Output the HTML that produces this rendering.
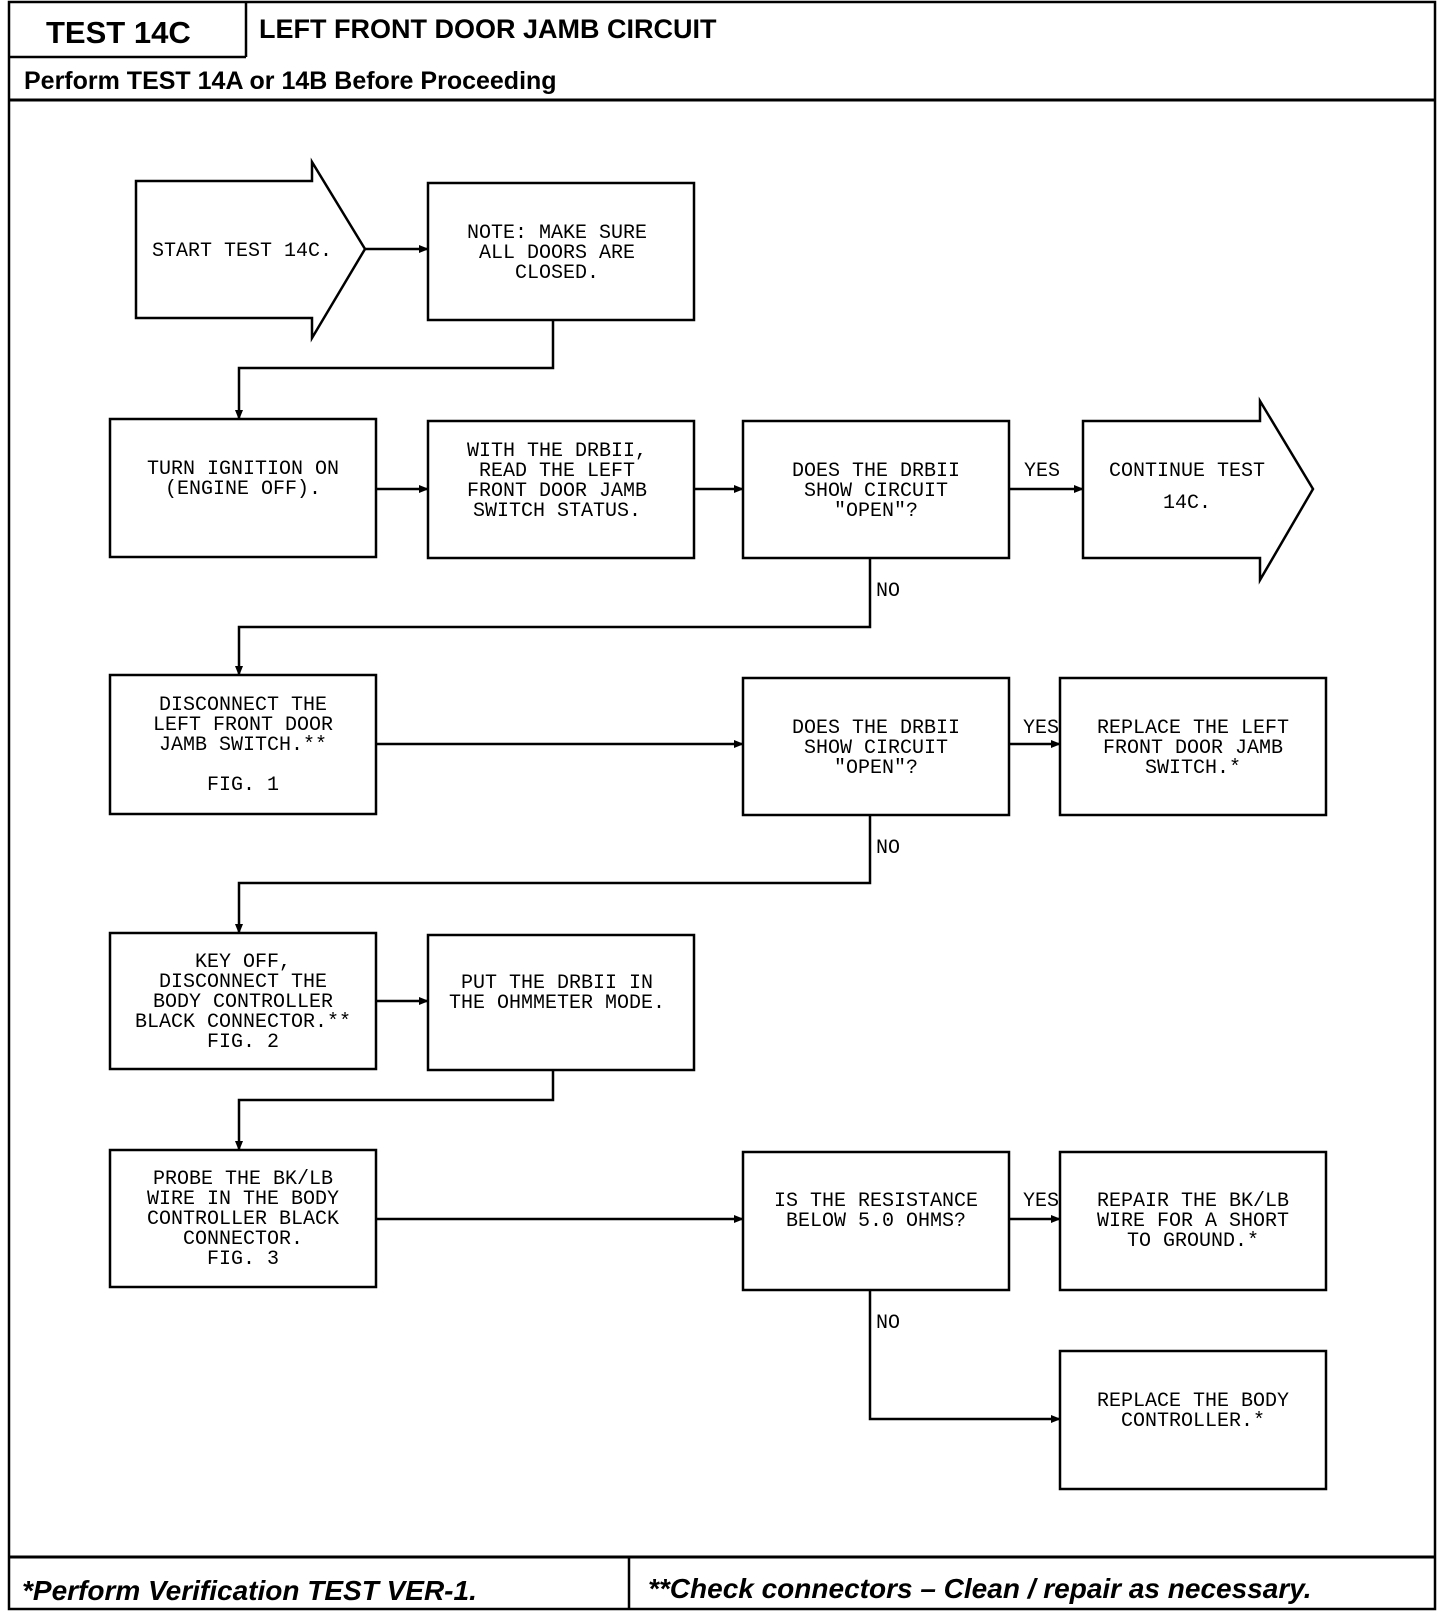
<!DOCTYPE html>
<html><head><meta charset="utf-8"><style>
html,body{margin:0;padding:0;background:#fff;}
svg{display:block}
.t{font-family:"Liberation Mono",monospace;font-size:20px;fill:#000;text-anchor:middle}
.l{font-family:"Liberation Mono",monospace;font-size:20px;fill:#000}
.h{font-family:"Liberation Sans",sans-serif;font-weight:bold;fill:#000}
</style></head><body>
<svg width="1440" height="1618" viewBox="0 0 1440 1618" xmlns="http://www.w3.org/2000/svg">
<defs><marker id="a" markerWidth="10" markerHeight="8" refX="9" refY="4" orient="auto" markerUnits="userSpaceOnUse"><path d="M0,0 L10,4 L0,8 z" fill="#000"/></marker></defs>
<g fill="none" stroke="#000" stroke-width="2.5">
<rect x="9" y="2" width="1426" height="1607"/>
<line x1="9" y1="57" x2="246" y2="57"/><line x1="246" y1="2" x2="246" y2="57"/>
<line x1="9" y1="100" x2="1435" y2="100" stroke-width="3"/>
<line x1="9" y1="1557" x2="1435" y2="1557" stroke-width="3"/>
<line x1="629" y1="1557" x2="629" y2="1609"/>
<!-- start arrow -->
<path d="M136,181 H312 V162 L365,249 L312,338 V318 H136 Z"/>
<rect x="428" y="183" width="266" height="137"/>
<line x1="365" y1="249" x2="428" y2="249" marker-end="url(#a)"/>
<polyline points="553,320 553,368 239,368 239,419" marker-end="url(#a)"/>
<!-- row2 -->
<rect x="110" y="419" width="266" height="138"/>
<rect x="428" y="421" width="266" height="137"/>
<rect x="743" y="421" width="266" height="137"/>
<path d="M1083,421 H1260 V401 L1313,489 L1260,580 V558 H1083 Z"/>
<line x1="376" y1="489" x2="428" y2="489" marker-end="url(#a)"/>
<line x1="694" y1="489" x2="743" y2="489" marker-end="url(#a)"/>
<line x1="1009" y1="489" x2="1083" y2="489" marker-end="url(#a)"/>
<polyline points="870,558 870,627 239,627 239,675" marker-end="url(#a)"/>
<!-- row3 -->
<rect x="110" y="675" width="266" height="139"/>
<rect x="743" y="678" width="266" height="137"/>
<rect x="1060" y="678" width="266" height="137"/>
<line x1="376" y1="744" x2="743" y2="744" marker-end="url(#a)"/>
<line x1="1009" y1="744" x2="1060" y2="744" marker-end="url(#a)"/>
<polyline points="870,815 870,883 239,883 239,933" marker-end="url(#a)"/>
<!-- row4 -->
<rect x="110" y="933" width="266" height="136"/>
<rect x="428" y="935" width="266" height="135"/>
<line x1="376" y1="1001" x2="428" y2="1001" marker-end="url(#a)"/>
<polyline points="553,1070 553,1100 239,1100 239,1150" marker-end="url(#a)"/>
<!-- row5 -->
<rect x="110" y="1150" width="266" height="137"/>
<rect x="743" y="1152" width="266" height="138"/>
<rect x="1060" y="1152" width="266" height="138"/>
<line x1="376" y1="1219" x2="743" y2="1219" marker-end="url(#a)"/>
<line x1="1009" y1="1219" x2="1060" y2="1219" marker-end="url(#a)"/>
<polyline points="870,1290 870,1419 1060,1419" marker-end="url(#a)"/>
<rect x="1060" y="1351" width="266" height="138"/>
</g>
<text class="h" x="46" y="43" font-size="31">TEST 14C</text>
<text class="h" x="259" y="38" font-size="27">LEFT FRONT DOOR JAMB CIRCUIT</text>
<text class="h" x="24" y="89" font-size="25">Perform TEST 14A or 14B Before Proceeding</text>
<text class="h" x="22" y="1600" font-size="28" font-style="italic">*Perform Verification TEST VER-1.</text>
<text class="h" x="648" y="1598" font-size="28" font-style="italic">**Check connectors – Clean / repair as necessary.</text>

<text class="t" x="242" y="256">START TEST 14C.</text>
<text class="t" x="557" y="238">NOTE: MAKE SURE</text>
<text class="t" x="557" y="258">ALL DOORS ARE</text>
<text class="t" x="557" y="278">CLOSED.</text>

<text class="t" x="243" y="474">TURN IGNITION ON</text>
<text class="t" x="243" y="494">(ENGINE OFF).</text>
<text class="t" x="557" y="456">WITH THE DRBII,</text>
<text class="t" x="557" y="476">READ THE LEFT</text>
<text class="t" x="557" y="496">FRONT DOOR JAMB</text>
<text class="t" x="557" y="516">SWITCH STATUS.</text>
<text class="t" x="876" y="476">DOES THE DRBII</text>
<text class="t" x="876" y="496">SHOW CIRCUIT</text>
<text class="t" x="876" y="516">"OPEN"?</text>
<text class="l" x="1024" y="476">YES</text>
<text class="t" x="1187" y="476">CONTINUE TEST</text>
<text class="t" x="1187" y="508">14C.</text>
<text class="l" x="876" y="596">NO</text>

<text class="t" x="243" y="710">DISCONNECT THE</text>
<text class="t" x="243" y="730">LEFT FRONT DOOR</text>
<text class="t" x="243" y="750">JAMB SWITCH.**</text>
<text class="t" x="243" y="790">FIG. 1</text>
<text class="t" x="876" y="733">DOES THE DRBII</text>
<text class="t" x="876" y="753">SHOW CIRCUIT</text>
<text class="t" x="876" y="773">"OPEN"?</text>
<text class="l" x="1023" y="733">YES</text>
<text class="t" x="1193" y="733">REPLACE THE LEFT</text>
<text class="t" x="1193" y="753">FRONT DOOR JAMB</text>
<text class="t" x="1193" y="773">SWITCH.*</text>
<text class="l" x="876" y="853">NO</text>

<text class="t" x="243" y="967">KEY OFF,</text>
<text class="t" x="243" y="987">DISCONNECT THE</text>
<text class="t" x="243" y="1007">BODY CONTROLLER</text>
<text class="t" x="243" y="1027">BLACK CONNECTOR.**</text>
<text class="t" x="243" y="1047">FIG. 2</text>
<text class="t" x="557" y="988">PUT THE DRBII IN</text>
<text class="t" x="557" y="1008">THE OHMMETER MODE.</text>

<text class="t" x="243" y="1184">PROBE THE BK/LB</text>
<text class="t" x="243" y="1204">WIRE IN THE BODY</text>
<text class="t" x="243" y="1224">CONTROLLER BLACK</text>
<text class="t" x="243" y="1244">CONNECTOR.</text>
<text class="t" x="243" y="1264">FIG. 3</text>
<text class="t" x="876" y="1206">IS THE RESISTANCE</text>
<text class="t" x="876" y="1226">BELOW 5.0 OHMS?</text>
<text class="l" x="1023" y="1206">YES</text>
<text class="t" x="1193" y="1206">REPAIR THE BK/LB</text>
<text class="t" x="1193" y="1226">WIRE FOR A SHORT</text>
<text class="t" x="1193" y="1246">TO GROUND.*</text>
<text class="l" x="876" y="1328">NO</text>
<text class="t" x="1193" y="1406">REPLACE THE BODY</text>
<text class="t" x="1193" y="1426">CONTROLLER.*</text>
</svg>
</body></html>
